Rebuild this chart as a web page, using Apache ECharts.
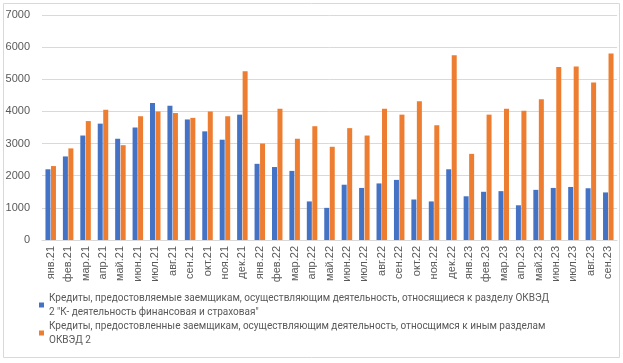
<!DOCTYPE html>
<html>
<head>
<meta charset="utf-8">
<script src="https://cdn.jsdelivr.net/npm/echarts@6/dist/echarts.min.js"></script>
<style>
  html, body { margin: 0; padding: 0; background: #fff; }
  #chart { width: 623px; height: 363px; }
</style>
</head>
<body>
<div id="chart"></div>
<script>
const months = [
  'янв.21', 'фев.21', 'мар.21', 'апр.21', 'май.21', 'июн.21', 'июл.21', 'авг.21', 'сен.21', 'окт.21', 'ноя.21', 'дек.21',
  'янв.22', 'фев.22', 'мар.22', 'апр.22', 'май.22', 'июн.22', 'июл.22', 'авг.22', 'сен.22', 'окт.22', 'ноя.22', 'дек.22',
  'янв.23', 'фев.23', 'мар.23', 'апр.23', 'май.23', 'июн.23', 'июл.23', 'авг.23', 'сен.23'
]

const financeName = 'Кредиты, предостовляемые заемщикам, осуществляющим деятельность, относящиеся к разделу ОКВЭД 2 "К- деятельность финансовая и страховая"'
const otherName = 'Кредиты, предостовленные заемщикам, осуществляющим деятельность, относщимся к иным разделам ОКВЭД 2'

const financeLoans = [
  2200, 2600, 3250, 3620, 3150, 3500, 4260, 4180, 3750, 3380, 3120, 3900,
  2370, 2270, 2150, 1200, 1000, 1720, 1620, 1760, 1870, 1260, 1200, 2200,
  1360, 1500, 1520, 1080, 1560, 1620, 1650, 1610, 1480
]
const otherLoans = [
  2300, 2850, 3700, 4050, 2950, 3850, 4000, 3950, 3800, 4000, 3850, 5250,
  3000, 4080, 3150, 3540, 2900, 3480, 3250, 4080, 3900, 4320, 3570, 5750,
  2680, 3900, 4080, 4020, 4380, 5380, 5400, 4900, 5800
]

// line breaks as in the legend of the original
const legendText = {
  [financeName]: 'Кредиты, предостовляемые заемщикам, осуществляющим деятельность, относящиеся к разделу ОКВЭД\n2 "К- деятельность финансовая и страховая"',
  [otherName]: 'Кредиты, предостовленные заемщикам, осуществляющим деятельность, относщимся к иным разделам\nОКВЭД 2'
}

const chart = echarts.init(document.getElementById('chart'))

chart.setOption({
  animation: false,
  textStyle: { fontFamily: 'Liberation Sans' },
  graphic: [{
    type: 'rect',
    shape: { x: 3.5, y: 3.5, width: 616, height: 354 },
    style: { fill: 'none', stroke: '#d9d9d9', lineWidth: 1 },
    silent: true
  }],
  grid: { left: 42, right: 6, top: 15, bottom: 123 },
  legend: {
    orient: 'vertical',
    left: 34,
    top: 286,
    height: 72,
    itemWidth: 5,
    itemHeight: 5,
    itemGap: 0,
    icon: 'rect',
    formatter: name => legendText[name],
    textStyle: {
      color: '#595959',
      fontFamily: 'Roboto',
      fontSize: 10,
      lineHeight: 14
    },
    data: [financeName, otherName]
  },
  xAxis: {
    type: 'category',
    data: months,
    axisLine: { lineStyle: { color: '#d9d9d9' } },
    axisTick: { show: false },
    axisLabel: { rotate: 90, interval: 0, color: '#595959', fontSize: 11, margin: 6 }
  },
  yAxis: {
    type: 'value',
    min: 0,
    max: 7000,
    interval: 1000,
    axisLine: { show: false },
    axisTick: { show: false },
    axisLabel: { color: '#595959', fontSize: 11, margin: 12, formatter: v => String(v) },
    splitLine: { lineStyle: { color: '#d9d9d9', width: 1 } }
  },
  series: [
    {
      name: financeName,
      type: 'bar',
      data: financeLoans,
      barWidth: 5,
      barGap: '10%',
      itemStyle: { color: '#4472c4' }
    },
    {
      name: otherName,
      type: 'bar',
      data: otherLoans,
      barWidth: 5,
      itemStyle: { color: '#ed7d31' }
    }
  ]
})
</script>
</body>
</html>
